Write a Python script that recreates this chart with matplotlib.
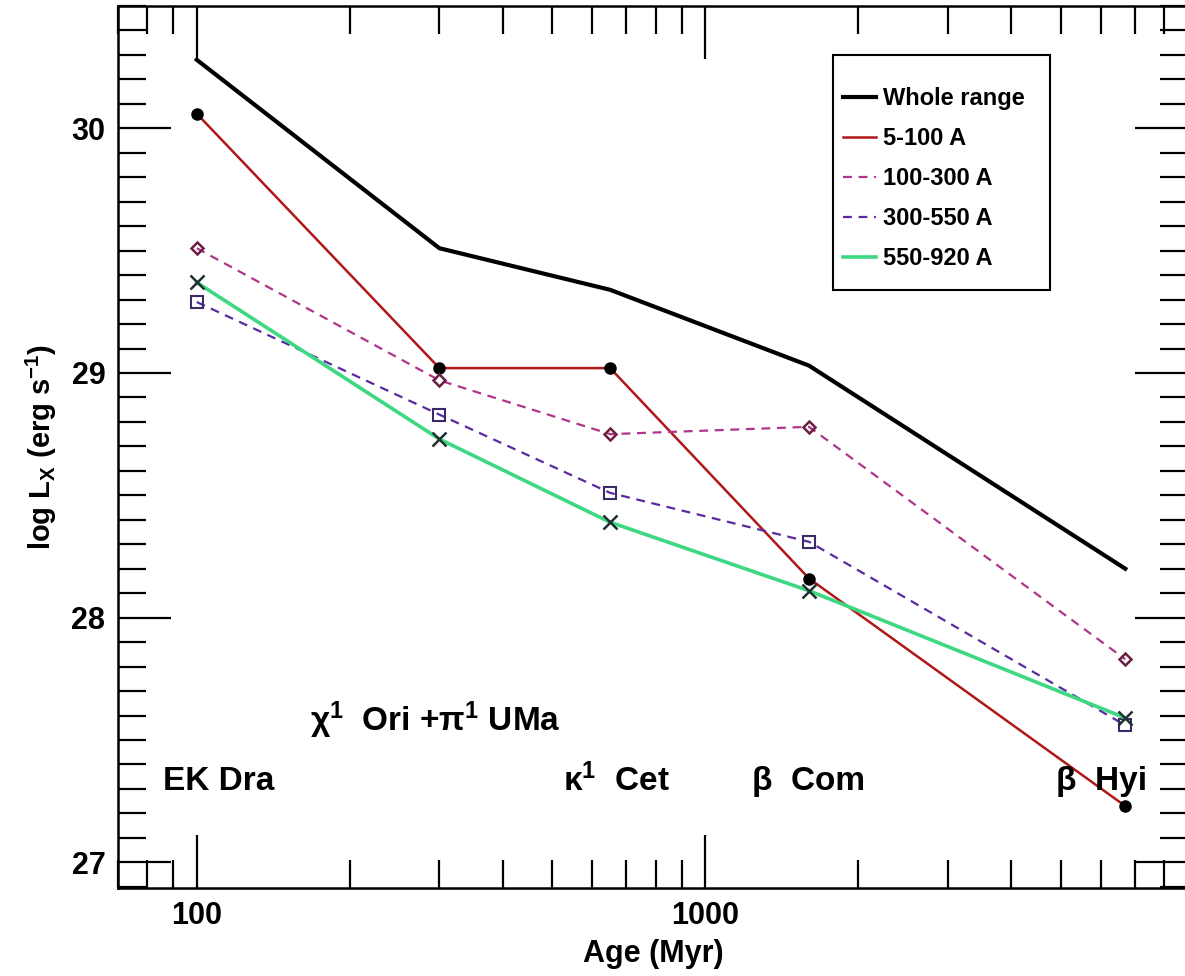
import matplotlib
matplotlib.use("Agg")
import matplotlib.pyplot as plt
from matplotlib.patches import Rectangle
from matplotlib.ticker import FixedLocator, MultipleLocator, LogLocator, NullFormatter, FixedFormatter

plt.rcParams['font.family'] = ['Liberation Sans', 'DejaVu Sans']
plt.rcParams['font.weight'] = 'bold'
plt.rcParams['mathtext.default'] = 'regular'

ages = [100, 300, 650, 1600, 6700]
whole = [30.28, 29.51, 29.34, 29.03, 28.20]
band_5_100 = [30.06, 29.02, 29.02, 28.16, 27.23]
band_100_300 = [29.51, 28.97, 28.75, 28.78, 27.83]
band_300_550 = [29.29, 28.83, 28.51, 28.31, 27.56]
band_550_920 = [29.37, 28.73, 28.39, 28.11, 27.59]
labels = ["Whole range", "5-100 A", "100-300 A", "300-550 A", "550-920 A"]
star_names = ["EK Dra", "χ$^{1}$  Ori +π$^{1}$ UMa", "κ$^{1}$  Cet", "β  Com", "β  Hyi"]
star_x = [86, 167, 525, 1237, 4900]
star_y = [27.332, 27.58, 27.332, 27.332, 27.332]

fig = plt.figure(figsize=(11.85, 9.76), dpi=100)
ax = fig.add_axes([118/1185, 1-888/976, 1070/1185, 882/976])

ax.plot(ages, whole, color='black', lw=3.0, label=labels[0])
ax.plot(ages, band_5_100, color='#b01818', lw=1.8, marker='o', ms=8,
        mfc='black', mec='black', label=labels[1])
ax.plot(ages, band_100_300, color='#b0358a', lw=1.6, ls=(0, (4, 3)), marker='D', ms=6,
        mfc='none', mec='#6a2040', mew=1.8, label=labels[2])
ax.plot(ages, band_300_550, color='#5a2aa0', lw=1.6, ls=(0, (4, 3)), marker='s', ms=8,
        mfc='none', mec='#3a2a6a', mew=1.5, label=labels[3])
ax.plot(ages, band_550_920, color='#3fd882', lw=2.6, marker='x', ms=10,
        mec='#203030', mew=1.8, label=labels[4])

for name, x, y in zip(star_names, star_x, star_y):
    ax.text(x, y, name, fontsize=24, ha='left', va='center', fontweight='bold')

ax.set_xscale('log')
ax.set_xlim(70, 8900)
ax.set_ylim(26.895, 30.5)

ax.xaxis.set_major_locator(FixedLocator([100, 1000]))
ax.xaxis.set_major_formatter(FixedFormatter(['100', '1000']))
ax.xaxis.set_minor_locator(LogLocator(base=10, subs=range(2, 10)))
ax.xaxis.set_minor_formatter(NullFormatter())
ax.yaxis.set_major_locator(MultipleLocator(1))
ax.yaxis.set_minor_locator(MultipleLocator(0.1))

ax.tick_params(which='both', direction='in', top=True, right=True, width=1.6, labelsize=22)
ax.tick_params(which='major', length=38, pad=9)
ax.tick_params(which='minor', length=20)
for s in ax.spines.values():
    s.set_linewidth(1.8)

ax.set_xlabel('Age (Myr)', fontsize=22, labelpad=6, fontweight='bold')
ax.set_ylabel('log L$_X$ (erg s$^{-1}$)', fontsize=21, labelpad=9, fontweight='bold')

ax.add_patch(Rectangle((0.6682, 0.678), 0.2028, 0.2664, transform=ax.transAxes,
                       fill=True, facecolor='white', edgecolor='black', lw=1.5, zorder=4))
leg = ax.legend(loc='upper left', bbox_to_anchor=(0.6776, 0.9076), fontsize=17,
                handlelength=1.4, handletextpad=0.3, labelspacing=0.72,
                borderpad=0, borderaxespad=0, frameon=False)
leg.set_zorder(5)
for h in leg.legend_handles:
    h.set_marker('')

fig.savefig('out.png', dpi=100)
